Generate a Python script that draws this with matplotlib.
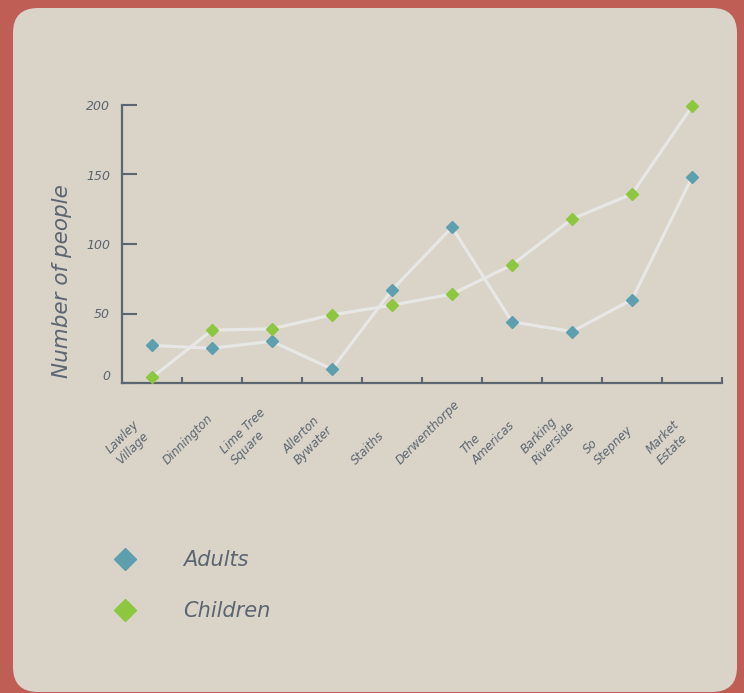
import matplotlib
matplotlib.use("Agg")
import matplotlib.pyplot as plt
import matplotlib.transforms as mtransforms
from matplotlib.patches import FancyBboxPatch
from matplotlib.lines import Line2D

# ---- data ----
categories = ["Lawley\nVillage", "Dinnington", "Lime Tree\nSquare", "Allerton\nBywater",
              "Staiths", "Derwenthorpe", "The\nAmericas", "Barking\nRiverside",
              "So\nStepney", "Market\nEstate"]
adults = [27, 25, 30, 10, 67, 112, 44, 37, 60, 148]
children = [4, 38, 39, 49, 56, 64, 85, 118, 136, 199]
y_ticks = [0, 50, 100, 150, 200]
series_names = ["Adults", "Children"]

# ---- style ----
FONT = ["DejaVu Sans"]
plt.rcParams["font.family"] = FONT
OUTER = "#BF5E55"
PANEL = "#D9D3C8"
AXC = "#5B6670"
C_ADULT = "#5E9FAF"
C_CHILD = "#8DC63F"
LINEC = "#E7E7E5"

W, H = 744, 693
fig = plt.figure(figsize=(W / 100, H / 100), dpi=100, facecolor=OUTER)
panel = FancyBboxPatch((13, 1), 724, 684, boxstyle="round,pad=0,rounding_size=25",
                       transform=None, facecolor=PANEL, edgecolor="none", zorder=0)
fig.add_artist(panel)

ax = fig.add_axes([122 / W, 1 - 383 / H, 600 / W, 278 / H])
ax.set_facecolor("none")

x = list(range(len(categories)))
ax.plot(x, adults, color=LINEC, lw=2.3, zorder=2, solid_capstyle="round", clip_on=False)
ax.plot(x, children, color=LINEC, lw=2.3, zorder=2, solid_capstyle="round", clip_on=False)
ax.plot(x, adults, ls="none", marker="D", ms=6.6, color=C_ADULT, zorder=3, clip_on=False)
ax.plot(x, children, ls="none", marker="D", ms=6.6, color=C_CHILD, zorder=3, clip_on=False)

ax.set_xlim(-0.5, len(categories) - 0.5)
ax.set_ylim(0, 200)

for s in ["top", "right"]:
    ax.spines[s].set_visible(False)
for s in ["left", "bottom"]:
    ax.spines[s].set_color(AXC)
    ax.spines[s].set_linewidth(1.6)

ax.set_yticks(y_ticks)
ax.set_yticklabels([str(v) for v in y_ticks])
ax.tick_params(axis="y", direction="in", length=10.5, width=1.5, color=AXC,
               labelcolor=AXC, labelsize=9, pad=8.5)
for lab in ax.get_yticklabels():
    lab.set_fontstyle("italic")

# major x ticks at band boundaries, labels on minor ticks (shifted left of each point)
bounds = [i + 0.5 for i in x]
ax.set_xticks(bounds)
ax.set_xticklabels([])
ax.tick_params(axis="x", which="major", direction="in", length=4.5, width=1.5, color=AXC)
label_pos = [i - 0.4 for i in x]
ax.set_xticks(label_pos, minor=True)
ax.set_xticklabels(categories, minor=True, rotation=45, ha="center", va="bottom",
                   rotation_mode="default", fontstyle="italic", color=AXC,
                   fontsize=8.5, multialignment="left", linespacing=1.2)
ax.tick_params(axis="x", which="minor", length=0, pad=60.5)

# the "0" label sits a little above the axis line in the reference
zero_tick = ax.yaxis.get_major_ticks()[0]
zero_tick.label1.set_transform(zero_tick.label1.get_transform() +
                               mtransforms.ScaledTranslation(0, 6 / 72, fig.dpi_scale_trans))

fig.text(62 / W, 1 - 281 / H, "Number of people", rotation=90, ha="center", va="center",
         fontsize=15.5, fontstyle="italic", color=AXC)

handles = [Line2D([], [], ls="none", marker="D", ms=11, color=C_ADULT),
           Line2D([], [], ls="none", marker="D", ms=11, color=C_CHILD)]
leg = fig.legend(handles, series_names, loc="center left",
                 bbox_to_anchor=(94 / W, 1 - 585.5 / H), frameon=False, handlelength=1.2,
                 handletextpad=2.2, labelspacing=1.5, prop={"size": 15, "style": "italic"})
for t in leg.get_texts():
    t.set_color(AXC)

fig.savefig("out.png", dpi=100, facecolor=OUTER)
